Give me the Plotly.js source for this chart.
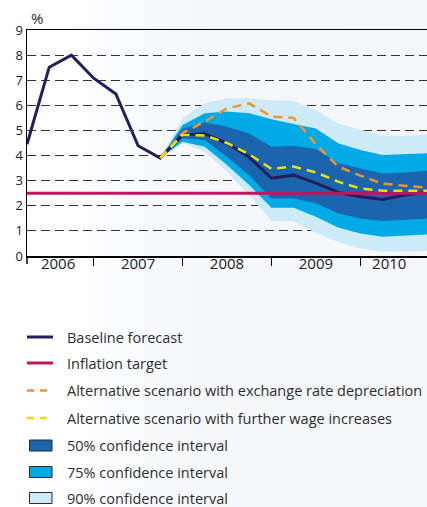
<!DOCTYPE html>
<html>
<head>
<meta charset="utf-8">
<script src="https://cdn.plot.ly/plotly-3.0.1.min.js"></script>
<style>
html, body { margin: 0; padding: 0; }
body { width: 427px; height: 507px; background: linear-gradient(to right, #ffffff 0%, #ffffff 14%, #f5f7fb 45%, #f4f6fa 100%); }
#chart { width: 427px; height: 507px; }
</style>
</head>
<body>
<div id="chart"></div>
<script>
// ---- data ----
const quarters = ['2006Q2','2006Q3','2006Q4','2007Q1','2007Q2','2007Q3','2007Q4',
  '2008Q1','2008Q2','2008Q3','2008Q4','2009Q1','2009Q2','2009Q3','2009Q4',
  '2010Q1','2010Q2','2010Q3','2010Q4'];
const baseline = [4.45, 7.52, 8.0, 7.08, 6.45, 4.39, 3.9, 4.82, 4.87, 4.49, 3.93, 3.1, 3.22, 2.9, 2.54, 2.36, 2.25, 2.43, 2.54];
const fanQuarters = quarters.slice(6);
const exchangeRateScenario = [3.9, 4.9, 5.35, 5.88, 6.08, 5.55, 5.5, 4.45, 3.56, 3.2, 2.88, 2.79, 2.72];
const wageScenario = [3.9, 4.82, 4.8, 4.5, 4.05, 3.47, 3.56, 3.33, 2.96, 2.69, 2.6, 2.59, 2.6];
const upper90 = [3.9, 5.5, 6.08, 6.28, 6.28, 6.2, 6.17, 5.81, 5.28, 5.02, 4.79, 4.79, 4.84];
const upper75 = [3.9, 5.22, 5.68, 5.75, 5.68, 5.45, 5.26, 5.08, 4.49, 4.22, 4.02, 4.05, 4.09];
const upper50 = [3.9, 5.08, 5.32, 5.15, 4.88, 4.35, 4.39, 4.26, 3.69, 3.49, 3.29, 3.33, 3.39];
const lower50 = [3.9, 4.69, 4.62, 3.95, 3.22, 2.29, 2.29, 2.1, 1.7, 1.49, 1.39, 1.43, 1.49];
const lower75 = [3.9, 4.55, 4.35, 3.62, 2.83, 1.92, 1.92, 1.56, 1.13, 0.9, 0.77, 0.81, 0.86];
const lower90 = [3.9, 4.49, 4.15, 3.36, 2.43, 1.4, 1.37, 0.92, 0.57, 0.3, 0.17, 0.17, 0.2];
const targetQuarters = ['2006Q2', '2010Q4'];
const inflationTarget = [2.5, 2.5];
const yearLabels = ['2006', '2007', '2008', '2009', '2010'];
const yearLabelPos = [1.4, 5, 9, 13, 16.3];
const legendLabels = ['Baseline forecast', 'Inflation target',
  'Alternative scenario with exchange rate depreciation',
  'Alternative scenario with further wage increases',
  '50% confidence interval', '75% confidence interval', '90% confidence interval'];

// ---- styles ----
const C = {
  base: '#231f5e', target: '#c0155f', orange: '#f5922a', yellow: '#ebde0c',
  c50: '#1b65ae', c75: '#00aae6', c90: '#cdeaf8', text: '#2e2e2e'
};
const FONT = 'Open Sans, Noto Sans, sans-serif';
const idx = q => quarters.indexOf(q);
const fx = fanQuarters.map(idx);
const W = 427, H = 507, ML = 27, MR = 0, MT = 30, MB = 251;
const PW = W - ML - MR, PH = H - MT - MB;
const px2x = p => (p - ML) / PW;
const px2y = p => (H - MB - p) / PH;

function band(lo, hi, color) {
  return [
    {x: fx, y: lo, mode: 'lines', line: {width: 0, color: color}, hoverinfo: 'skip', showlegend: false},
    {x: fx, y: hi, mode: 'lines', line: {width: 0, color: color}, fill: 'tonexty', fillcolor: color, hoverinfo: 'skip', showlegend: false}
  ];
}

const traces = [
  ...band(lower90, upper90, C.c90),
  ...band(lower75, upper75, C.c75),
  ...band(lower50, upper50, C.c50),
  {x: quarters.map(idx), y: baseline, mode: 'lines', name: legendLabels[0], line: {color: C.base, width: 3}, showlegend: false},
  {x: targetQuarters.map(idx), y: inflationTarget, mode: 'lines', name: legendLabels[1], line: {color: C.target, width: 3}, showlegend: false},
  {x: fx, y: exchangeRateScenario, mode: 'lines', name: legendLabels[2], line: {color: C.orange, width: 2.5, dash: '9px,6px'}, showlegend: false},
  {x: fx, y: wageScenario, mode: 'lines', name: legendLabels[3], line: {color: C.yellow, width: 2.5, dash: '9px,6px'}, showlegend: false}
];

// legend drawn manually
const legendY = [337, 363, 390.5, 418, 445.5, 472, 498];
const shapes = [
  {type: 'line', xref: 'paper', yref: 'paper', x0: 0, x1: 0, y0: 0, y1: -8, ysizemode: 'pixel', yanchor: 0, line: {color: '#000', width: 1.5}}
];
const annotations = [
  {xref: 'paper', yref: 'paper', x: px2x(29), y: 1, xanchor: 'left', yanchor: 'bottom', yshift: 0, text: '%', showarrow: false, font: {family: FONT, size: 15, color: C.text}}
];
const lineStyles = [
  {color: C.base, width: 3}, {color: C.target, width: 3},
  {color: C.orange, width: 2.5, dash: '7px,6px'}, {color: C.yellow, width: 2.5, dash: '7px,6px'}
];
const boxColors = [C.c50, C.c75, C.c90];
legendLabels.forEach((lab, i) => {
  const y = legendY[i];
  if (i < 4) {
    shapes.push({type: 'line', xref: 'paper', yref: 'paper', x0: px2x(27), x1: px2x(53), y0: px2y(y), y1: px2y(y), line: lineStyles[i]});
  } else {
    shapes.push({type: 'rect', xref: 'paper', yref: 'paper', x0: px2x(29.5), x1: px2x(52), y0: px2y(y - 5.5), y1: px2y(y + 5.5), fillcolor: boxColors[i - 4], line: {color: '#2a2a2a', width: 1}});
  }
  annotations.push({xref: 'paper', yref: 'paper', x: px2x(65.5), y: px2y(y), xanchor: 'left', yanchor: 'middle', text: lab, showarrow: false, borderpad: 0, font: {family: FONT, size: 14.5, color: C.text}});
});

const layout = {
  width: W, height: H,
  margin: {l: ML, r: MR, t: MT, b: MB, pad: 0},
  paper_bgcolor: 'rgba(0,0,0,0)', plot_bgcolor: 'rgba(0,0,0,0)',
  showlegend: false,
  font: {family: FONT, color: C.text},
  xaxis: {
    range: [0, 18], showgrid: false, zeroline: false,
    showline: true, linecolor: '#000', linewidth: 1.5, mirror: true,
    tickmode: 'array', tickvals: yearLabelPos, ticktext: yearLabels, ticks: '',
    ticklabelstandoff: -7,
    tickfont: {family: FONT, size: 15, color: '#222'},
    minor: {ticks: 'outside', ticklen: 8, tickcolor: '#000', tickwidth: 1.2, tick0: 3, dtick: 4, showgrid: false}
  },
  yaxis: {
    range: [0, 9], dtick: 1, tick0: 0, zeroline: false,
    showline: true, linecolor: '#000', linewidth: 1.5,
    showgrid: true, gridcolor: '#333', gridwidth: 1, griddash: '9px,5px',
    ticks: '', tickfont: {family: FONT, size: 13, color: '#222'}
  },
  shapes: shapes,
  annotations: annotations
};

Plotly.newPlot('chart', traces, layout, {staticPlot: true, displayModeBar: false});
</script>
</body>
</html>
